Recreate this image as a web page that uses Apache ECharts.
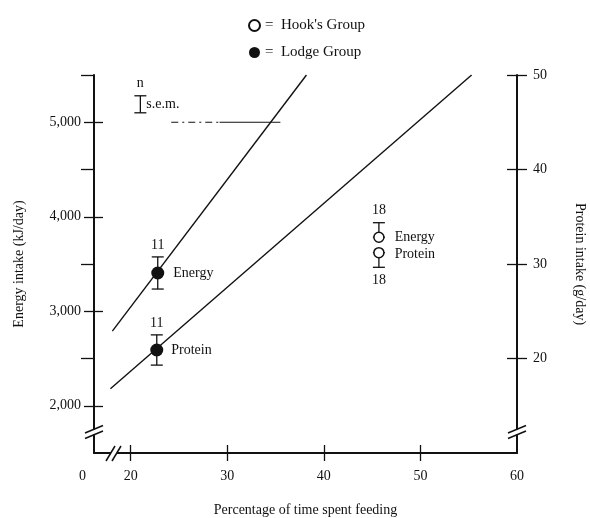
<!DOCTYPE html>
<html>
<head>
<meta charset="utf-8">
<title>Feeding time vs intake</title>
<script src="https://cdn.jsdelivr.net/npm/echarts@6/dist/echarts.min.js"></script>
<style>
  html, body { margin: 0; padding: 0; background: #fff; }
  #chart { width: 590px; height: 518px; }
</style>
</head>
<body>
<div id="chart"></div>
<script>
// regression lines (x = % time feeding)
const energyLine = [[18.1, 2790], [38.2, 5500]];   // kJ/day, left axis
const proteinLine = [[17.9, 16.8], [55.3, 50]];    // g/day, right axis

// group means
const lodgeEnergy = [[22.8, 3405]];
const lodgeProtein = [[22.7, 20.9]];
const hookEnergy = [[45.7, 3783]];
const hookProtein = [[45.7, 31.2]];

// s.e.m. bars: [x, low, high]
const energyBars = [[22.8, 3235, 3575], [45.7, 3783, 3937]];
const energyN = ['11', '18'];
const energySide = ['top', 'top'];
const proteinBars = [[22.7, 19.3, 22.5], [45.7, 29.65, 31.2]];
const proteinN = ['11', '18'];
const proteinSide = ['top', 'bottom'];
const keyBar = [[21.0, 5100, 5280]];
const keyN = ['n'];

// 5,000 reference line
const refDashed = [[24.2, 5000], [29.2, 5000]];
const refSolid = [[29.2, 5000], [35.5, 5000]];

// axis ticks / labels
const xTicks = [20, 30, 40, 50];
const xLabels = [20, 30, 40, 50, 60];
const energyTicks = [2000, 3000, 4000, 5000];
const energyMinor = [2500, 3500, 4500, 5500];
const proteinTicks = [20, 30, 40, 50];

const FONT = 'Liberation Serif';
const INK = '#111';

function barRenderer(labels, sides) {
  return function (params, api) {
    const x = api.value(0);
    const lo = api.coord([x, api.value(1)]);
    const hi = api.coord([x, api.value(2)]);
    const w = 6;
    const st = { stroke: INK, lineWidth: 1.3 };
    const children = [
      { type: 'line', shape: { x1: lo[0], y1: lo[1], x2: hi[0], y2: hi[1] }, style: st },
      { type: 'line', shape: { x1: lo[0] - w, y1: lo[1], x2: lo[0] + w, y2: lo[1] }, style: st },
      { type: 'line', shape: { x1: hi[0] - w, y1: hi[1], x2: hi[0] + w, y2: hi[1] }, style: st }
    ];
    const side = sides[params.dataIndex];
    const ty = side === 'top' ? hi[1] - 12 : lo[1] + 13;
    children.push({
      type: 'text',
      style: {
        text: labels[params.dataIndex], x: hi[0], y: ty,
        align: 'center', verticalAlign: 'middle',
        font: '14px "' + FONT + '"', fill: INK
      }
    });
    return { type: 'group', children: children };
  };
}

function tickAxis(pos, min, max, vals, len, inside) {
  return {
    type: 'value', position: pos, min: min, max: max,
    axisLine: { show: false },
    axisTick: { show: true, inside: inside, length: len, customValues: vals, lineStyle: { color: INK, width: 1.3 } },
    axisLabel: { show: false },
    splitLine: { show: false }
  };
}

function pointLabel(text, dist, offset) {
  return {
    show: true, position: 'right', distance: dist, offset: offset || [0, 0],
    formatter: text, fontFamily: FONT, fontSize: 14, color: INK
  };
}

const axisLineStyle = { color: INK, width: 2 };
const labelStyle = { fontFamily: FONT, fontSize: 14, color: INK };
const filledDot = { color: INK, opacity: 1 };
const openDot = { color: '#fff', borderColor: INK, borderWidth: 1.5, opacity: 1 };

const chart = echarts.init(document.getElementById('chart'));
chart.setOption({
  animation: false,
  backgroundColor: '#fff',
  textStyle: { fontFamily: FONT },
  grid: { left: 94, right: 73, top: 75, bottom: 65, containLabel: false, outerBoundsMode: 'none' },
  legend: {
    data: ["Hook's Group", 'Lodge Group'],
    orient: 'vertical',
    left: 243, top: 13,
    icon: 'circle',
    itemWidth: 11, itemHeight: 11, itemGap: 12,
    formatter: name => '=  ' + name,
    textStyle: { fontFamily: FONT, fontSize: 15, color: INK },
    selectedMode: false
  },
  xAxis: [
    {
      type: 'value', position: 'bottom', min: 16.2, max: 60,
      name: 'Percentage of time spent feeding',
      nameLocation: 'middle', nameGap: 50,
      nameTextStyle: { fontFamily: FONT, fontSize: 14, color: INK },
      axisLine: { lineStyle: axisLineStyle },
      axisTick: { show: true, length: 8, customValues: xTicks, lineStyle: { color: INK, width: 1.3 } },
      axisLabel: Object.assign({ customValues: xLabels, margin: 16 }, labelStyle),
      splitLine: { show: false }
    },
    tickAxis('bottom', 16.2, 60, xTicks, 8, true)
  ],
  yAxis: [
    {
      type: 'value', position: 'left', min: 1500, max: 5500,
      name: 'Energy intake (kJ/day)',
      nameLocation: 'middle', nameGap: 68, nameRotate: 90,
      nameTextStyle: { fontFamily: FONT, fontSize: 14, color: INK },
      axisLine: { show: true, lineStyle: axisLineStyle },
      axisTick: { show: true, length: 10, customValues: energyTicks, lineStyle: { color: INK, width: 1.3 } },
      axisLabel: Object.assign({
        customValues: energyTicks, margin: 13,
        formatter: v => v.toLocaleString('en-US')
      }, labelStyle),
      splitLine: { show: false }
    },
    {
      type: 'value', position: 'right', min: 10, max: 50,
      name: 'Protein intake (g/day)',
      nameLocation: 'middle', nameGap: 56, nameRotate: -90,
      nameTextStyle: { fontFamily: FONT, fontSize: 14, color: INK },
      axisLine: { show: true, lineStyle: axisLineStyle },
      axisTick: { show: true, length: 10, customValues: proteinTicks, lineStyle: { color: INK, width: 1.3 } },
      axisLabel: Object.assign({ customValues: proteinTicks, margin: 16 }, labelStyle),
      splitLine: { show: false }
    },
    tickAxis('left', 1500, 5500, energyTicks, 9, true),
    tickAxis('right', 10, 50, proteinTicks, 10, true),
    tickAxis('left', 1500, 5500, energyMinor, 13, false)
  ],
  series: [
    {
      type: 'line', data: energyLine, yAxisIndex: 0, symbol: 'none',
      lineStyle: { color: INK, width: 1.4 }, z: 2
    },
    {
      type: 'line', data: proteinLine, yAxisIndex: 1, symbol: 'none',
      lineStyle: { color: INK, width: 1.4 }, z: 2
    },
    {
      type: 'line', data: refDashed, yAxisIndex: 0, symbol: 'none',
      lineStyle: { color: INK, width: 1.2, type: [7, 4, 2, 4] }, z: 2
    },
    {
      type: 'line', data: refSolid, yAxisIndex: 0, symbol: 'none',
      lineStyle: { color: INK, width: 1.2 }, z: 2
    },
    {
      type: 'custom', yAxisIndex: 0, data: energyBars,
      renderItem: barRenderer(energyN, energySide), z: 3
    },
    {
      type: 'custom', yAxisIndex: 1, data: proteinBars,
      renderItem: barRenderer(proteinN, proteinSide), z: 3
    },
    {
      type: 'custom', yAxisIndex: 0, data: keyBar,
      renderItem: barRenderer(keyN, ['top']), z: 3
    },
    {
      type: 'scatter', yAxisIndex: 0, data: [[keyBar[0][0], (keyBar[0][1] + keyBar[0][2]) / 2]],
      symbolSize: 0, silent: true, itemStyle: { opacity: 1 },
      label: pointLabel('s.e.m.', 6)
    },
    {
      name: 'Lodge Group', type: 'scatter', yAxisIndex: 0, data: lodgeEnergy,
      symbol: 'circle', symbolSize: 13, itemStyle: filledDot, z: 5,
      label: pointLabel('Energy', 9)
    },
    {
      name: 'Lodge Group', type: 'scatter', yAxisIndex: 1, data: lodgeProtein,
      symbol: 'circle', symbolSize: 13, itemStyle: filledDot, z: 5,
      label: pointLabel('Protein', 8)
    },
    {
      name: "Hook's Group", type: 'scatter', yAxisIndex: 0, data: hookEnergy,
      symbol: 'circle', symbolSize: 10, itemStyle: openDot, z: 5,
      label: pointLabel('Energy', 10)
    },
    {
      name: "Hook's Group", type: 'scatter', yAxisIndex: 1, data: hookProtein,
      symbol: 'circle', symbolSize: 10, itemStyle: openDot, z: 5,
      label: pointLabel('Protein', 10, [0, 2])
    }
  ],
  graphic: [
    // origin label
    { type: 'text', left: 79, top: 469, z: 100, style: { text: '0', font: '14px "' + FONT + '"', fill: INK } },
    // left axis break
    { type: 'rect', z: 100, shape: { x: 89, y: 429.5, width: 10, height: 5 }, style: { fill: '#fff' } },
    { type: 'line', z: 101, shape: { x1: 85, y1: 433, x2: 103, y2: 425.5 }, style: { stroke: INK, lineWidth: 1.5 } },
    { type: 'line', z: 101, shape: { x1: 85, y1: 438.5, x2: 103, y2: 431 }, style: { stroke: INK, lineWidth: 1.5 } },
    // x axis break
    { type: 'rect', z: 100, shape: { x: 111, y: 450, width: 6, height: 6 }, style: { fill: '#fff' } },
    { type: 'line', z: 101, shape: { x1: 106, y1: 461, x2: 115, y2: 446 }, style: { stroke: INK, lineWidth: 1.5 } },
    { type: 'line', z: 101, shape: { x1: 112, y1: 461, x2: 121, y2: 446 }, style: { stroke: INK, lineWidth: 1.5 } },
    // right axis break
    { type: 'rect', z: 100, shape: { x: 512, y: 429.5, width: 10, height: 5 }, style: { fill: '#fff' } },
    { type: 'line', z: 101, shape: { x1: 508, y1: 433, x2: 526, y2: 425.5 }, style: { stroke: INK, lineWidth: 1.5 } },
    { type: 'line', z: 101, shape: { x1: 508, y1: 438.5, x2: 526, y2: 431 }, style: { stroke: INK, lineWidth: 1.5 } }
  ]
});
</script>
</body>
</html>
